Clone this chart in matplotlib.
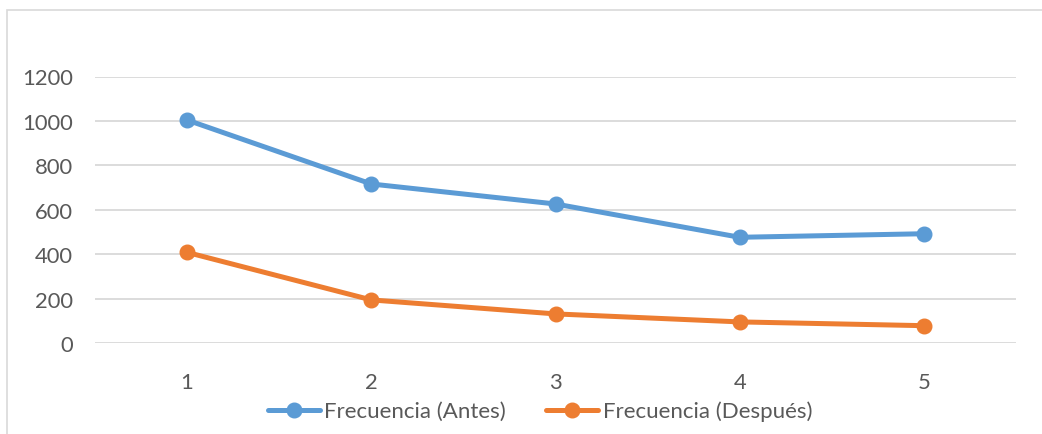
import matplotlib
matplotlib.use("Agg")
import matplotlib.pyplot as plt
from matplotlib.patches import Rectangle

categories = [1, 2, 3, 4, 5]
antes = [1004, 716, 626, 476, 492]
despues = [408, 194, 131, 95, 78]
yticks = [0, 200, 400, 600, 800, 1000, 1200]

BLUE = "#5B9BD5"
ORANGE = "#ED7D31"
GRID = "#D9D9D9"
TEXT = "#595959"
FS_TICK = 15.8
FS_LEG = 16

plt.rcParams["font.family"] = ["Lato", "DejaVu Sans"]

fig = plt.figure(figsize=(10.42, 4.35), dpi=100)
W, H = 1042, 435

# chart frame
fig.patches.append(Rectangle((7 / W, -0.05), 1.1, 1 - 11 / H + 0.05,
                             transform=fig.transFigure, fill=False,
                             edgecolor="#D9D9D9", linewidth=1.2))

ax = fig.add_axes([95 / W, 1 - 344 / H, (1016 - 95) / W, (344 - 77.5) / H])
ax.set_xlim(0.5, 5.5)
ax.set_ylim(0, 1200)
ax.set_yticks(yticks)
ax.set_xticks(categories)
ax.set_xticklabels([str(c) for c in categories])
ax.grid(axis="y", color=GRID, linewidth=1.3)
ax.set_axisbelow(True)
for s in ax.spines.values():
    s.set_visible(False)
ax.tick_params(axis="both", length=0, labelsize=FS_TICK, colors=TEXT)
ax.tick_params(axis="y", pad=16)
ax.tick_params(axis="x", pad=21)

l1, = ax.plot(categories, antes, color=BLUE, linewidth=3.6, marker="o",
              markersize=10.5, label="Frecuencia (Antes)", solid_capstyle="round")
l2, = ax.plot(categories, despues, color=ORANGE, linewidth=3.6, marker="o",
              markersize=10.5, label="Frecuencia (Después)", solid_capstyle="round")

leg = fig.legend(handles=[l1, l2], loc="center", ncol=2, frameon=False,
                 bbox_to_anchor=(540 / W, 1 - 412 / H), fontsize=FS_LEG,
                 handlelength=2.35, handletextpad=0.2, columnspacing=1.8)
for t in leg.get_texts():
    t.set_color(TEXT)

fig.savefig("out.png", dpi=100)
